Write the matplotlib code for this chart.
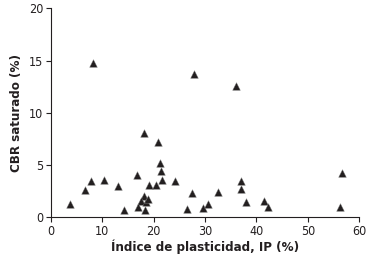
import matplotlib
matplotlib.use("Agg")
import matplotlib.pyplot as plt

ip = [3.7, 8.2, 27.9, 36.1, 18.2, 20.9, 21.2, 21.4, 21.7, 24.2,
      6.7, 7.8, 10.4, 13.0, 14.3, 16.7, 19.2, 20.4, 18.2, 17.6,
      18.5, 19.0, 17.0, 18.3, 26.6, 27.4, 29.6, 30.5, 32.5, 37.0,
      37.0, 38.0, 41.4, 42.3, 56.7, 56.3]
cbr = [1.24, 14.8, 13.7, 12.6, 8.1, 7.2, 5.2, 4.4, 3.6, 3.5,
       2.65, 3.45, 3.6, 3.0, 0.65, 4.0, 3.05, 3.1, 2.05, 1.55,
       1.5, 1.7, 1.0, 0.65, 0.75, 2.3, 0.85, 1.25, 2.4, 3.5,
       2.7, 1.45, 1.55, 0.95, 4.25, 0.95]

xticks = [0, 10, 20, 30, 40, 50, 60]
yticks = [0, 5, 10, 15, 20]

txt = "#231f20"
fam = "DejaVu Sans"

fig = plt.figure(figsize=(3.70, 2.63), dpi=100)
ax = fig.add_axes([0.137, 0.174, 0.834, 0.794])
ax.scatter(ip, cbr, marker="^", s=30, color=txt, edgecolors="#777777",
           linewidths=0.3, zorder=3, clip_on=False)
ax.set_xlim(0, 60)
ax.set_ylim(0, 20)
ax.set_xticks(xticks)
ax.set_yticks(yticks)
for s in ["top", "right"]:
    ax.spines[s].set_visible(False)
for s in ["left", "bottom"]:
    ax.spines[s].set_color(txt)
    ax.spines[s].set_linewidth(0.8)
ax.tick_params(direction="out", length=3.5, width=0.8, color=txt,
               labelcolor=txt, labelsize=9, pad=2)
for lab in ax.get_xticklabels() + ax.get_yticklabels():
    lab.set_fontstretch("condensed")
    lab.set_family(fam)
ax.set_xlabel("Índice de plasticidad, IP (%)", fontsize=9.5, fontweight="bold",
              color=txt, fontstretch="condensed", family=fam, labelpad=1)
ax.set_ylabel("CBR saturado (%)", fontsize=9.5, fontweight="bold",
              color=txt, fontstretch="condensed", family=fam, labelpad=4)
fig.savefig("out.png", dpi=100)
